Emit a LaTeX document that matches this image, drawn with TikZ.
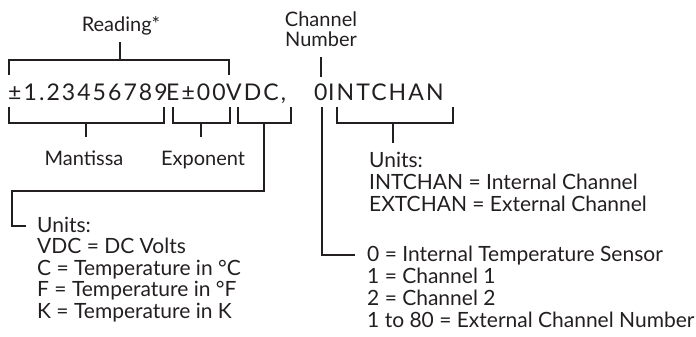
\documentclass[tikz,border=0pt]{standalone}
\usepackage{fontspec}
\setmainfont{Lato}
\newfontfamily\readfont[LetterSpace=9]{Lato}
\definecolor{ink}{HTML}{231F20}
\begin{document}
\begin{tikzpicture}[x=1pt,y=-1pt,
  lbl/.style={inner sep=0pt, text=ink, font=\fontsize{20}{21.5}\selectfont},
  blk/.style={inner sep=0pt, text=ink, anchor=north west, align=left, font=\fontsize{21}{#1}\selectfont},
  seg/.style={anchor=base west, inner sep=0pt, text=ink, font=\readfont\fontsize{23}{28}\selectfont},
  wire/.style={draw=ink, line width=1.2pt}]
\useasboundingbox (0,0) rectangle (696,337);
% labels
\node[lbl, anchor=base] (reading) at (121,32) {Reading*};
\node[lbl, anchor=base] (chan1) at (321,27) {Channel};
\node[lbl, anchor=base] (chan2) at (321,47) {Number};
% the reading, in segments
\node[seg] (mval) at (8,100) {±1.23456789};
\node[seg] (eval) at (166,100) {E±00};
\node[seg] (uval) at (226,100) {VDC,};
\node[seg] (cval) at (314,100) {0};
\node[seg] (tval) at (328,100) {INTCHAN};
\node[lbl, anchor=base] (mant) at (84,165) {Mantissa};
\node[lbl, anchor=base] (expo) at (203,165) {Exponent};
\node[blk=21.5] (unitsL) at (37,216.9) {Units:\\VDC = DC Volts\\C = Temperature in °C\\F = Temperature in °F\\K = Temperature in K};
\node[blk=22] (unitsR) at (369,151.9) {Units:\\INTCHAN = Internal Channel\\EXTCHAN = External Channel};
\node[blk=22] (chans) at (367,245.9) {0 = Internal Temperature Sensor\\1 = Channel 1\\2 = Channel 2\\1 to 80 = External Channel Number};
% brackets and connectors
\draw[wire] (9,75) -- (9,60) -- (229,60) -- (229,75);
\draw[wire] (120,60) -- (120,42);
\draw[wire] (9,107) -- (9,123) -- (164,123) -- (164,107);
\draw[wire] (86,123) -- (86,137);
\draw[wire] (173,107) -- (173,123) -- (230,123) -- (230,107);
\draw[wire] (201,123) -- (201,137);
\draw[wire] (238,107) -- (238,123) -- (291,123) -- (291,107);
\draw[wire] (264,123) -- (264,191) -- (12,191) -- (12,226) -- (26,226);
\draw[wire] (321,57) -- (321,77);
\draw[wire] (322,107) -- (322,255) -- (355,255);
\draw[wire] (337,107) -- (337,123) -- (453,123) -- (453,107);
\draw[wire] (393,123) -- (393,143);
\end{tikzpicture}
\end{document}
